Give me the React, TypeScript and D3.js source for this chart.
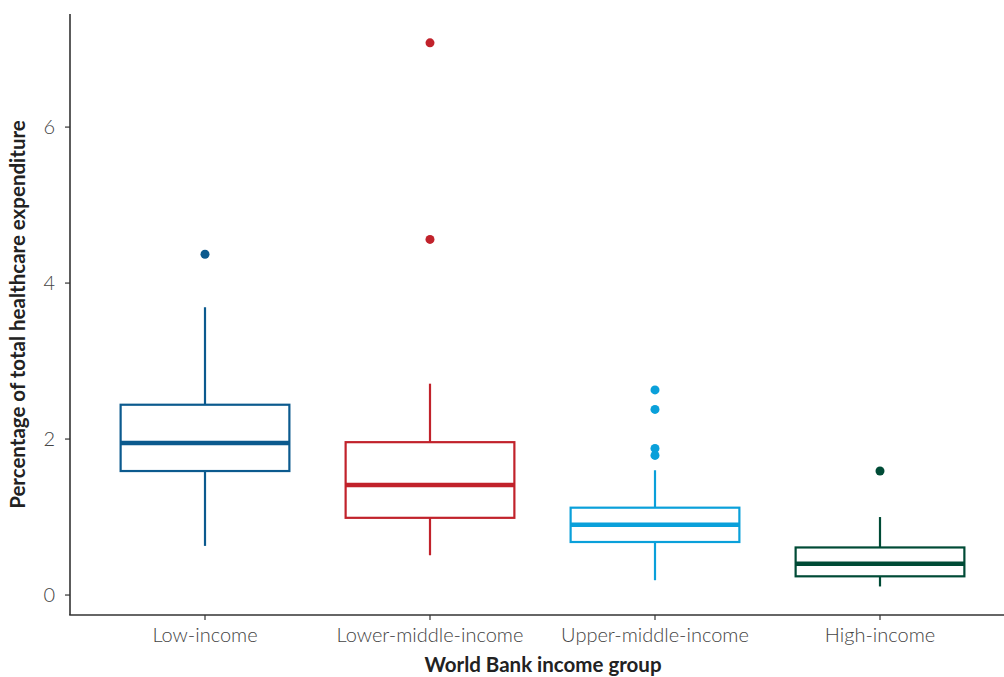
import { useEffect, useRef } from 'react';
import * as d3 from 'd3';

const groups = ['Low-income', 'Lower-middle-income', 'Upper-middle-income', 'High-income'];
const colors = ['#0b5a8e', '#c1222b', '#0aa0da', '#004b36'];
// [whiskerLow, q1, median, q3, whiskerHigh]
const stats = [
    [0.63, 1.59, 1.95, 2.44, 3.69],
    [0.51, 0.99, 1.41, 1.96, 2.71],
    [0.19, 0.68, 0.9, 1.12, 1.6],
    [0.11, 0.24, 0.4, 0.61, 1.0],
];
const outliers = [
    [4.37],
    [4.56, 7.08],
    [2.63, 2.38, 1.88, 1.79],
    [1.59],
];
const yTicks = [0, 2, 4, 6];

export default function App() {
    const ref = useRef<SVGSVGElement | null>(null);
    const width = 1004;
    const height = 677;

    useEffect(() => {
        if (!ref.current) return;
        const svg = d3.select(ref.current);
        svg.selectAll('*').remove();

        const left = 70;
        const bottom = 615;
        const top = 14;

        const x = d3.scalePoint<string>().domain(groups).range([left, 1015]).padding(0.6);
        const y = d3.scaleLinear().domain([-0.256, 7.45]).range([bottom, top]);
        const boxW = x.step() * 0.75;

        const font = '"Source Sans Pro", Lato, "Noto Sans", sans-serif';

        const g = svg.append('g');

        groups.forEach((name, i) => {
            const [lo, q1, med, q3, hi] = stats[i];
            const cx = x(name)!;
            const c = colors[i];
            const gg = g.append('g');
            gg.append('line')
                .attr('x1', cx).attr('x2', cx)
                .attr('y1', y(hi)).attr('y2', y(q3))
                .attr('stroke', c).attr('stroke-width', 2.2);
            gg.append('line')
                .attr('x1', cx).attr('x2', cx)
                .attr('y1', y(q1)).attr('y2', y(lo))
                .attr('stroke', c).attr('stroke-width', 2.2);
            gg.append('rect')
                .attr('x', cx - boxW / 2)
                .attr('y', y(q3))
                .attr('width', boxW)
                .attr('height', y(q1) - y(q3))
                .attr('fill', 'white')
                .attr('stroke', c)
                .attr('stroke-width', 2.2);
            gg.append('line')
                .attr('x1', cx - boxW / 2).attr('x2', cx + boxW / 2)
                .attr('y1', y(med)).attr('y2', y(med))
                .attr('stroke', c).attr('stroke-width', 4.5);
            gg.selectAll('circle')
                .data(outliers[i])
                .enter()
                .append('circle')
                .attr('cx', cx)
                .attr('cy', (d) => y(d))
                .attr('r', 4.5)
                .attr('fill', c);
        });

        // axes
        const axisColor = '#333333';
        svg.append('line')
            .attr('x1', left).attr('x2', left)
            .attr('y1', top).attr('y2', bottom)
            .attr('stroke', axisColor).attr('stroke-width', 1.6);
        svg.append('line')
            .attr('x1', left - 0.8).attr('x2', width)
            .attr('y1', bottom).attr('y2', bottom)
            .attr('stroke', axisColor).attr('stroke-width', 1.6);

        yTicks.forEach((t) => {
            svg.append('line')
                .attr('x1', left - 5).attr('x2', left)
                .attr('y1', y(t)).attr('y2', y(t))
                .attr('stroke', axisColor).attr('stroke-width', 1.2);
            svg.append('text')
                .attr('x', left - 15)
                .attr('y', y(t))
                .attr('dy', '0.35em')
                .attr('text-anchor', 'end')
                .style('font-family', font)
                .style('font-size', '20px')
                .style('font-weight', 300)
                .attr('fill', '#444444')
                .text(t);
        });

        groups.forEach((name) => {
            const cx = x(name)!;
            svg.append('line')
                .attr('x1', cx).attr('x2', cx)
                .attr('y1', bottom).attr('y2', bottom + 5)
                .attr('stroke', axisColor).attr('stroke-width', 1.2);
            svg.append('text')
                .attr('x', cx)
                .attr('y', 642)
                .attr('text-anchor', 'middle')
                .style('font-family', font)
                .style('font-size', '20px')
                .style('font-weight', 300)
                .attr('fill', '#444444')
                .text(name);
        });

        svg.append('text')
            .attr('x', 543)
            .attr('y', 672)
            .attr('text-anchor', 'middle')
            .style('font-family', font)
            .style('font-size', '20.5px')
            .style('font-weight', 700)
            .attr('fill', '#222222')
            .text('World Bank income group');

        svg.append('text')
            .attr('transform', `translate(25, ${(top + bottom) / 2}) rotate(-90)`)
            .attr('text-anchor', 'middle')
            .style('font-family', font)
            .style('font-size', '20.5px')
            .style('font-weight', 700)
            .attr('fill', '#222222')
            .text('Percentage of total healthcare expenditure');
    }, []);

    return (
        <svg
            ref={ref}
            width={width}
            height={height}
            style={{ display: 'block', position: 'absolute', left: 0, top: 0, background: 'white' }}
        />
    );
}
